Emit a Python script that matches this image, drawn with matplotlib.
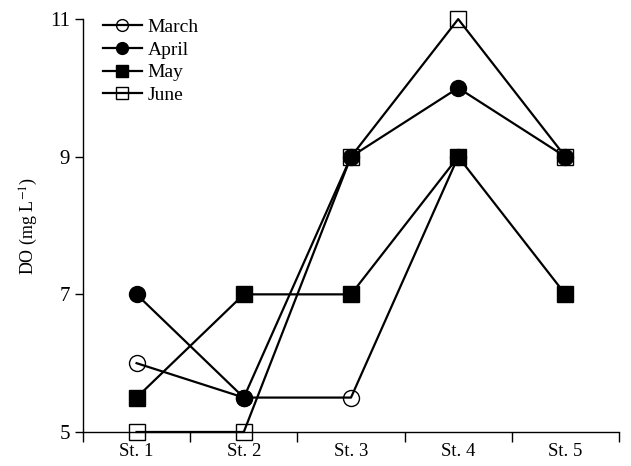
import matplotlib
matplotlib.use("Agg")
import matplotlib.pyplot as plt
import numpy as np
from matplotlib.lines import Line2D

plt.rcParams['font.family'] = ['Liberation Serif', 'DejaVu Serif']
plt.rcParams['mathtext.fontset'] = 'stix'

stations = ["St. 1", "St. 2", "St. 3", "St. 4", "St. 5"]
march = [6.0, 5.5, 5.5, 9.0, np.nan]
april = [7.0, 5.5, 9.0, 10.0, 9.0]
may = [5.5, 7.0, 7.0, 9.0, 7.0]
june = [5.0, 5.0, 9.0, 11.0, 9.0]

fig = plt.figure(figsize=(6.31, 4.66), dpi=100)
ax = fig.add_axes([0.1315, 0.073, 0.8495, 0.886])
x = np.arange(len(stations))

styles = [
    ("March", march, 'o', 'none'),
    ("April", april, 'o', 'black'),
    ("May", may, 's', 'black'),
    ("June", june, 's', 'none'),
]
for name, vals, m, fc in styles:
    ax.plot(x, vals, color='black', lw=1.6, marker=m, markersize=11.5,
            markerfacecolor=fc, markeredgecolor='black', markeredgewidth=1.0,
            clip_on=False, zorder=3)

ax.set_xlim(-0.5, 4.5)
ax.set_ylim(5, 11)
ax.set_yticks([5, 7, 9, 11])
ax.set_xticks(np.arange(-0.5, 5.0, 1.0))
ax.set_xticklabels([])
ax.set_xticks(x, minor=True)
ax.set_xticklabels(stations, minor=True, fontsize=13.5)
ax.tick_params(axis='x', which='minor', length=0, pad=8)
ax.tick_params(axis='x', which='major', length=7, width=1.0, direction='out')
ax.tick_params(axis='y', length=6, width=1.0, direction='out', labelsize=15)
for s in ['top', 'right']:
    ax.spines[s].set_visible(False)
for s in ['left', 'bottom']:
    ax.spines[s].set_linewidth(1.0)
ax.set_ylabel("DO (mg L$^{-1}$)", fontsize=13, labelpad=7)

handles = []
for name, vals, m, fc in styles:
    handles.append(Line2D([0], [0], color='black', lw=1.6, marker=m, markersize=8.5,
                          markerfacecolor=fc, markeredgecolor='black', label=name))
ax.legend(handles=handles, loc='upper left', bbox_to_anchor=(0.015, 1.03), frameon=False,
          fontsize=14, handlelength=2.0, labelspacing=0.26, handletextpad=0.3,
          borderaxespad=0.2)

fig.savefig("out.png", dpi=100)
